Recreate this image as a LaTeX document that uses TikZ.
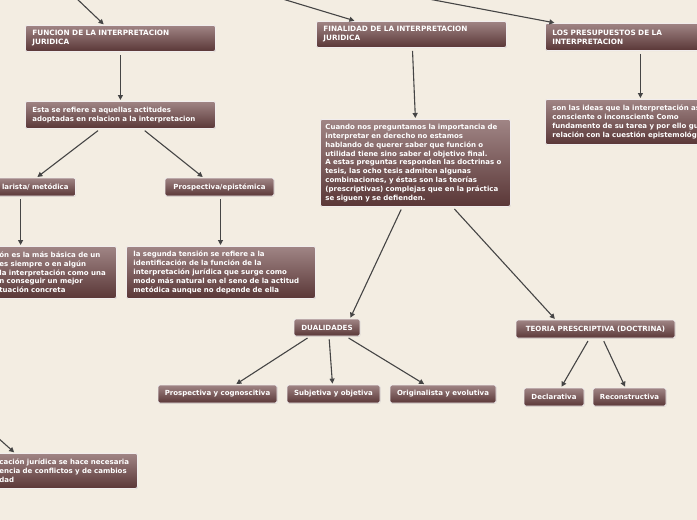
\documentclass[tikz,border=0pt]{standalone}
\usepackage{fontspec}
\setmainfont{DejaVu Sans}
\usetikzlibrary{backgrounds, arrows.meta, shadows}
\definecolor{fondo}{HTML}{F3EDE2}
\definecolor{cajaA}{HTML}{A08585}
\definecolor{cajaB}{HTML}{5A3737}
\definecolor{flechac}{HTML}{454545}
\tikzset{
  caja/.style = {draw=white!85!cajaA, line width=0.8pt, rounded corners=2pt,
    top color=cajaA, bottom color=cajaB, text=white, align=left,
    font=\bfseries\fontsize{7}{8.8}\selectfont, inner xsep=7pt, inner ysep=2pt,
    drop shadow={shadow xshift=0.5pt, shadow yshift=-0.8pt, opacity=0.2}},
  titulo/.style = {caja, font=\bfseries\fontsize{7.3}{9}\selectfont},
  corta/.style = {caja, align=center, minimum height=18pt, inner xsep=2pt},
  mayus/.style = {font=\bfseries\fontsize{7.1}{9}\selectfont},
  flecha/.style = {draw=flechac, line width=1.1pt,
    -{Triangle[length=5pt, width=5pt]}, shorten <=3pt, shorten >=1pt},
  every picture/.style = {background rectangle/.style={fill=fondo},
    inner frame sep=0pt, show background rectangle}
}

\begin{document}
\begin{tikzpicture}[x=1pt, y=-1pt]
  \useasboundingbox (0,0) rectangle (697,520);
  \clip (0,0) rectangle (697,520);

  % rama izquierda
  \node [titulo, anchor=north west, text width=176pt, minimum height=26pt]
    (funcion) at (25,25) {FUNCION DE LA INTERPRETACION\\JURIDICA};
  \node [caja, anchor=north west, text width=176pt, minimum height=27pt]
    (esta) at (25,101) {Esta se refiere a aquellas actitudes\\adoptadas en relacion a la interpretacion};
  \node [caja, anchor=east, text width=100pt, align=right, minimum height=18pt]
    (instr) at (76,187) {larista/ metódica};
  \node [corta, minimum width=109pt] (prosp) at (219.5,187) {Prospectiva/epistémica};
  \node [caja, anchor=north west, text width=110pt, minimum height=52pt]
    (izq) at (-8,246) {ón es la más básica de un\\es siempre o en algún\\la interpretación como una\\n conseguir un mejor\\tuación concreta};
  \node [caja, anchor=north west, text width=175pt, minimum height=52pt]
    (segunda) at (126,246) {la segunda tensión se refiere a la\\identificación de la función de la\\interpretación jurídica que surge como\\modo más natural en el seno de la actitud\\metódica aunque no depende de ella};
  \node [caja, anchor=north west, text width=131pt, minimum height=35pt]
    (abajo) at (-8,453) {cación jurídica se hace necesaria\\encia de conflictos y de cambios\\dad};

  % rama central
  \node [titulo, anchor=north west, text width=176pt, minimum height=26pt]
    (finalidad) at (316,21) {FINALIDAD DE LA INTERPRETACION\\JURIDICA};
  \node [caja, anchor=north west, text width=180pt, minimum height=87pt, inner xsep=5pt]
    (cuando) at (320,119) {Cuando nos preguntamos la importancia de\\interpretar en derecho no estamos\\hablando de querer saber que función o\\utilidad tiene sino saber el objetivo final.\\A estas preguntas responden las doctrinas o\\tesis, las ocho tesis admiten algunas\\combinaciones, y éstas son las teorías\\(prescriptivas) complejas que en la práctica\\se siguen y se defienden.};
  \node [corta, mayus, minimum width=66pt, minimum height=17pt] (dualidades) at (327,327.5) {DUALIDADES};
  \node [corta, mayus, minimum width=159pt] (teoria) at (595.5,329) {TEORIA PRESCRIPTIVA (DOCTRINA)};
  \node [corta, minimum width=119pt] (cogn) at (217.5,394) {Prospectiva y cognoscitiva};
  \node [corta, minimum width=93pt] (subj) at (333.5,394) {Subjetiva y objetiva};
  \node [corta, minimum width=106pt] (orig) at (443,394) {Originalista y evolutiva};
  \node [corta, minimum width=60pt] (decl) at (554,397) {Declarativa};
  \node [corta, minimum width=73pt] (recon) at (629.5,397) {Reconstructiva};

  % rama derecha
  \node [titulo, anchor=north west, text width=176pt, minimum height=27pt]
    (presup) at (545,23) {LOS PRESUPUESTOS DE LA\\INTERPRETACION};
  \node [caja, anchor=north west, text width=176pt, minimum height=45pt]
    (sonlas) at (545,99) {son las ideas que la interpretación as\\consciente o inconsciente Como\\fundamento de su tarea y por ello gu\\relación con la cuestión epistemológi};

  % extremos fuera del cuadro
  \coordinate (ta) at (75,-3);
  \coordinate (tb) at (276,-3);
  \coordinate (tc) at (418,-3);
  \coordinate (td) at (-3,437);

  \draw [flecha, shorten <=0pt] (ta) -- ([xshift=-16]funcion.north);
  \draw [flecha, shorten <=0pt] (tb) -- ([xshift=-56]finalidad.north);
  \draw [flecha, shorten <=0pt] (tc) -- ([xshift=-85]presup.north);
  \draw [flecha, shorten <=0pt] (td) -- ([xshift=-50]abajo.north);
  \draw [flecha] (funcion.south) -- (esta.north);
  \draw [flecha] ([xshift=-20]esta.south) -- ([xshift=18]instr.north);
  \draw [flecha] ([xshift=22]esta.south) -- ([xshift=-16]prosp.north);
  \draw [flecha] ([xshift=2]instr.south) -- ([xshift=2]instr.south |- izq.north);
  \draw [flecha] ([xshift=1]prosp.south) -- ([xshift=1]prosp.south |- segunda.north);
  \draw [flecha] ([xshift=1]finalidad.south) -- (cuando.north);
  \draw [flecha] ([xshift=-13]cuando.south) -- ([xshift=23]dualidades.north);
  \draw [flecha] ([xshift=37]cuando.south) -- ([xshift=-40]teoria.north);
  \draw [flecha] (presup.south) -- (sonlas.north);
  \draw [flecha] ([xshift=-17]dualidades.south) -- ([xshift=18]cogn.north);
  \draw [flecha] ([xshift=2]dualidades.south) -- ([xshift=-1]subj.north);
  \draw [flecha] ([xshift=19]dualidades.south) -- ([xshift=-18]orig.north);
  \draw [flecha] ([xshift=-6]teoria.south) -- ([xshift=7]decl.north);
  \draw [flecha] ([xshift=7]teoria.south) -- ([xshift=-4]recon.north);
\end{tikzpicture}
\end{document}
